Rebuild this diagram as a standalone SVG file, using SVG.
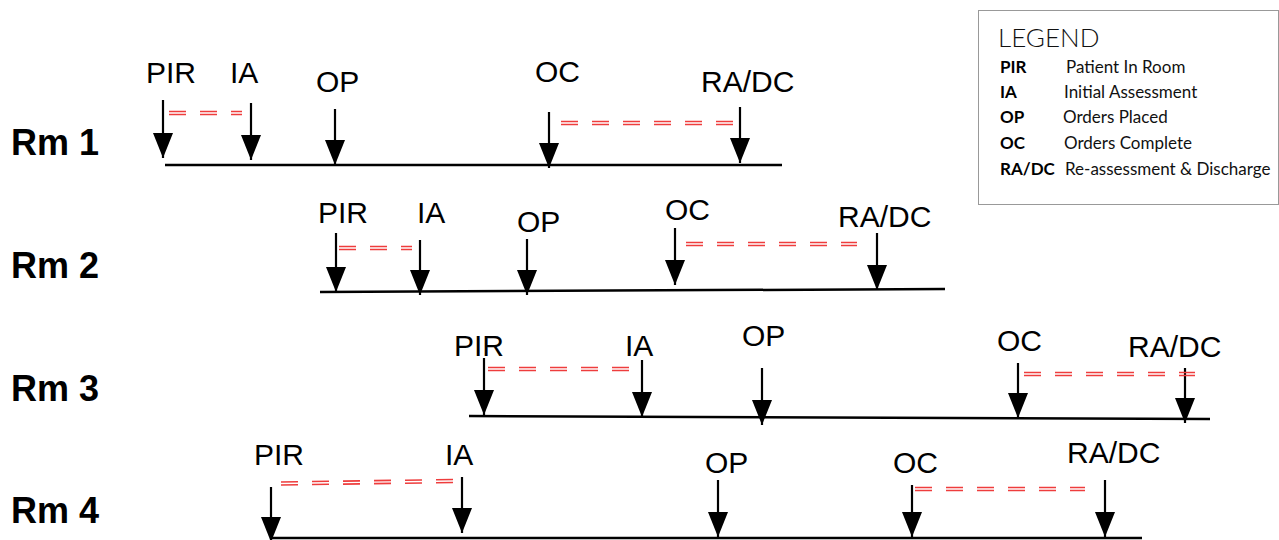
<svg xmlns="http://www.w3.org/2000/svg" width="1279" height="540" viewBox="0 0 1279 540">
<style>
.lbl{font-family:"Liberation Sans",Arial,sans-serif;font-size:30px;fill:#000}
.rm{font-family:"Liberation Sans",Arial,sans-serif;font-size:36px;font-weight:bold;fill:#000}
.base{stroke:#000;stroke-width:2.5;fill:none}
.arr{stroke:#000;stroke-width:2.2;fill:none;marker-end:url(#head)}
.red{stroke:#ee3d3d;stroke-width:1.6;stroke-dasharray:17 14;fill:none}
.lg{font-family:Lato,"Open Sans",sans-serif;font-size:17px;fill:#111}
.lgb{font-family:Lato,"Open Sans",sans-serif;font-size:17px;font-weight:bold;fill:#000}
</style>
<defs>
<marker id="head" markerUnits="userSpaceOnUse" markerWidth="22" markerHeight="26" refX="10" refY="25" orient="0" overflow="visible">
<path d="M0,0 L20,0 L10,25 Z" fill="#000"/>
</marker>
</defs>
<rect width="1279" height="540" fill="#fff"/>

<g id="legend">
<rect x="978.5" y="10.5" width="300" height="194" fill="#fff" stroke="#999" stroke-width="1"/>
<text x="998" y="47" font-family="Lato,'Open Sans',sans-serif" font-size="26" font-weight="300" fill="#111">LEGEND</text>
<text class="lgb" x="1000" y="73">PIR</text><text class="lg" x="1066" y="73">Patient In Room</text>
<text class="lgb" x="1000" y="98">IA</text><text class="lg" x="1064" y="98">Initial Assessment</text>
<text class="lgb" x="1000" y="123">OP</text><text class="lg" x="1063" y="123">Orders Placed</text>
<text class="lgb" x="1000" y="149">OC</text><text class="lg" x="1064" y="149">Orders Complete</text>
<text class="lgb" x="1000" y="175">RA/DC</text><text class="lg" x="1065" y="175">Re-assessment &amp; Discharge</text>
</g>

<g id="rm1">
<text class="rm" x="11" y="155">Rm 1</text>
<line class="base" x1="165" y1="165" x2="782" y2="165"/>
<text class="lbl" x="146" y="83">PIR</text>
<text class="lbl" x="230" y="83">IA</text>
<text class="lbl" x="316" y="92">OP</text>
<text class="lbl" x="535" y="82">OC</text>
<text class="lbl" x="701" y="92">RA/DC</text>
</g>
<g id="rm2">
<text class="rm" x="11" y="278">Rm 2</text>
<line class="base" x1="320" y1="292" x2="945" y2="289"/>
<text class="lbl" x="318" y="223">PIR</text>
<text class="lbl" x="417" y="223">IA</text>
<text class="lbl" x="517" y="232">OP</text>
<text class="lbl" x="665" y="220">OC</text>
<text class="lbl" x="838" y="227">RA/DC</text>
</g>
<g id="rm3">
<text class="rm" x="11" y="401">Rm 3</text>
<line class="base" x1="469" y1="416" x2="1210" y2="419"/>
<text class="lbl" x="454" y="356">PIR</text>
<text class="lbl" x="625" y="356">IA</text>
<text class="lbl" x="742" y="346">OP</text>
<text class="lbl" x="997" y="351">OC</text>
<text class="lbl" x="1128" y="357">RA/DC</text>
</g>
<g id="rm4">
<text class="rm" x="11" y="523">Rm 4</text>
<line class="base" x1="271" y1="538" x2="1142" y2="538"/>
<text class="lbl" x="254" y="465">PIR</text>
<text class="lbl" x="445" y="465">IA</text>
<text class="lbl" x="705" y="473">OP</text>
<text class="lbl" x="893" y="473">OC</text>
<text class="lbl" x="1067" y="463">RA/DC</text>
</g>

<g id="connectors">
<line class="arr" x1="163" y1="100" x2="163" y2="158"/>
<line class="arr" x1="251" y1="103" x2="251" y2="160"/>
<line class="arr" x1="335" y1="109" x2="335" y2="165"/>
<line class="arr" x1="549" y1="112" x2="549" y2="168"/>
<line class="arr" x1="740" y1="107" x2="740" y2="163"/>

<line class="arr" x1="336" y1="233" x2="336" y2="292"/>
<line class="arr" x1="420" y1="240" x2="420" y2="295"/>
<line class="arr" x1="527" y1="239" x2="527" y2="295"/>
<line class="arr" x1="675" y1="228" x2="675" y2="285"/>
<line class="arr" x1="877" y1="233" x2="877" y2="290"/>

<line class="arr" x1="484" y1="358" x2="484" y2="415"/>
<line class="arr" x1="642" y1="360" x2="642" y2="417"/>
<line class="arr" x1="762" y1="368" x2="762" y2="425"/>
<line class="arr" x1="1018" y1="363" x2="1018" y2="418"/>
<line class="arr" x1="1185" y1="368" x2="1185" y2="423"/>

<line class="arr" x1="271" y1="487" x2="271" y2="542"/>
<line class="arr" x1="462" y1="477" x2="462" y2="533"/>
<line class="arr" x1="718" y1="480" x2="718" y2="537"/>
<line class="arr" x1="912" y1="485" x2="912" y2="537"/>
<line class="arr" x1="1105" y1="480" x2="1105" y2="537"/>

<line class="red" x1="169" y1="111.5" x2="242" y2="111.5"/><line class="red" x1="169" y1="114.5" x2="242" y2="114.5"/>
<line class="red" x1="561" y1="121.5" x2="733" y2="121.5"/><line class="red" x1="561" y1="124.5" x2="733" y2="124.5"/>
<line class="red" x1="339" y1="246.5" x2="412" y2="246.5"/><line class="red" x1="339" y1="249.5" x2="412" y2="249.5"/>
<line class="red" x1="686" y1="242.5" x2="857" y2="242.5"/><line class="red" x1="686" y1="245.5" x2="857" y2="245.5"/>
<line class="red" x1="488" y1="367.5" x2="630" y2="367.5"/><line class="red" x1="488" y1="370.5" x2="630" y2="370.5"/>
<line class="red" x1="1024" y1="372.5" x2="1195" y2="372.5"/><line class="red" x1="1024" y1="375.5" x2="1195" y2="375.5"/>
<line class="red" x1="281" y1="482" x2="454" y2="479.5"/><line class="red" x1="281" y1="485" x2="454" y2="482.5"/>
<line class="red" x1="915" y1="487.5" x2="1085" y2="487.5"/><line class="red" x1="915" y1="490.5" x2="1085" y2="490.5"/>
</g>
</svg>
